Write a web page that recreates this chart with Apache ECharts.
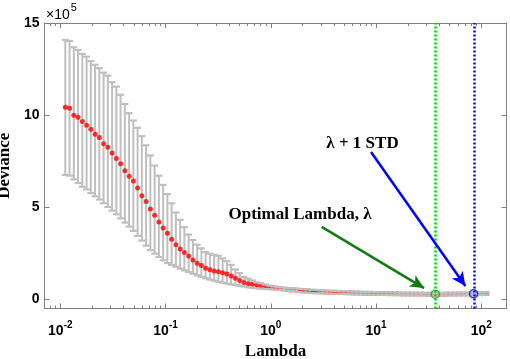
<!DOCTYPE html>
<html>
<head>
<meta charset="utf-8">
<script src="https://cdn.jsdelivr.net/npm/echarts@6/dist/echarts.min.js"></script>
<style>
html, body { margin: 0; padding: 0; background: #fff; }
#main { width: 510px; height: 359px; }
</style>
</head>
<body>
<div id="main"></div>
<script>
// lambda grid (x), cross-validated deviance (x1e5) with its error bar ends
var lambdaVals = [
    0.01116, 0.01225, 0.01344, 0.01475, 0.01619, 0.01777, 0.0195, 0.0214, 0.02349, 0.02578,
    0.0283, 0.03105, 0.03408, 0.0374, 0.04105, 0.04505, 0.04945, 0.05427, 0.05956, 0.06536,
    0.07174, 0.07873, 0.08641, 0.09483, 0.1041, 0.1142, 0.1254, 0.1376, 0.151, 0.1657,
    0.1819, 0.1996, 0.219, 0.2404, 0.2639, 0.2896, 0.3178, 0.3488, 0.3828, 0.4201,
    0.4611, 0.5061, 0.5555, 0.6096, 0.669, 0.7343, 0.8058, 0.8844, 0.9706, 1.0655,
    1.1688, 1.2835, 1.4083, 1.5455, 1.6959, 1.8617, 2.0429, 2.2415, 2.4605, 2.701,
    2.9641, 3.2527, 3.57, 3.918, 4.2997, 4.7194, 5.18, 5.6855, 6.2393, 6.8472,
    7.5156, 8.2474, 9.0518, 9.9341, 10.905, 11.963, 13.137, 14.414, 15.818, 17.358,
    19.055, 20.909, 22.942, 25.183, 27.645, 30.338, 33.291, 36.539, 40.101, 44.008,
    48.303, 53.017, 58.191, 63.859, 70.081, 76.922, 84.412, 92.645, 101.67, 111.61
];
var devMean = [
    10.42, 10.36, 9.98, 9.87, 9.64, 9.44, 9.22, 8.95, 8.77, 8.44,
    8.24, 7.93, 7.63, 7.35, 6.97, 6.67, 6.41, 6.03, 5.61, 5.29,
    4.89, 4.55, 4.18, 3.86, 3.57, 3.24, 2.95, 2.72, 2.52, 2.34,
    2.12, 1.94, 1.82, 1.67, 1.58, 1.52, 1.48, 1.43, 1.36, 1.25,
    1.13, 1.0, 0.9, 0.83, 0.8, 0.76, 0.72, 0.67, 0.64, 0.61,
    0.58, 0.54, 0.52, 0.49, 0.48, 0.46, 0.44, 0.43, 0.41, 0.40,
    0.39, 0.38, 0.37, 0.36, 0.35, 0.345, 0.34, 0.33, 0.325, 0.32,
    0.315, 0.31, 0.305, 0.30, 0.295, 0.29, 0.285, 0.28, 0.277, 0.274,
    0.271, 0.268, 0.266, 0.264, 0.262, 0.261, 0.26, 0.259, 0.26, 0.261,
    0.262, 0.264, 0.266, 0.268, 0.27, 0.273, 0.276, 0.28, 0.285, 0.29
];
var devUpper = [
    14.08, 14.02, 13.68, 13.53, 13.32, 13.17, 12.93, 12.73, 12.55, 12.3,
    12.14, 11.78, 11.54, 11.1, 10.6, 10.1, 9.7, 9.3, 8.85, 8.35,
    7.8, 7.25, 6.7, 6.2, 5.7, 5.2, 4.7, 4.3, 3.9, 3.5,
    3.2, 2.95, 2.75, 2.55, 2.45, 2.4, 2.35, 2.2, 2.05, 1.85,
    1.6, 1.4, 1.2, 1.1, 1.0, 0.9, 0.85, 0.78, 0.72, 0.68,
    0.65, 0.62, 0.6, 0.58, 0.57, 0.55, 0.53, 0.52, 0.5, 0.49,
    0.47, 0.46, 0.45, 0.44, 0.43, 0.42, 0.415, 0.405, 0.4, 0.39,
    0.385, 0.38, 0.375, 0.37, 0.365, 0.36, 0.355, 0.35, 0.345, 0.342,
    0.339, 0.336, 0.334, 0.332, 0.33, 0.329, 0.328, 0.327, 0.328, 0.329,
    0.33, 0.332, 0.334, 0.336, 0.338, 0.341, 0.344, 0.348, 0.353, 0.358
];
var devLower = [
    6.74, 6.7, 6.5, 6.3, 6.1, 5.95, 5.75, 5.58, 5.4, 5.2,
    5.0, 4.8, 4.6, 4.38, 4.15, 3.93, 3.7, 3.43, 3.17, 2.9,
    2.65, 2.46, 2.28, 2.1, 1.95, 1.85, 1.75, 1.65, 1.55, 1.46,
    1.37, 1.28, 1.2, 1.12, 1.05, 0.99, 0.93, 0.88, 0.83, 0.79,
    0.75, 0.71, 0.67, 0.63, 0.6, 0.58, 0.56, 0.54, 0.53, 0.51,
    0.49, 0.48, 0.46, 0.44, 0.42, 0.37, 0.35, 0.34, 0.32, 0.31,
    0.31, 0.3, 0.29, 0.28, 0.27, 0.27, 0.265, 0.255, 0.25, 0.25,
    0.245, 0.24, 0.235, 0.23, 0.225, 0.22, 0.215, 0.21, 0.209, 0.206,
    0.203, 0.2, 0.198, 0.196, 0.194, 0.193, 0.192, 0.191, 0.192, 0.193,
    0.194, 0.196, 0.198, 0.2, 0.202, 0.205, 0.208, 0.212, 0.217, 0.222
];

// selected lambdas
var lambdaOpt = 36.539, meanOpt = 0.259;
var lambda1se = 84.412, mean1se = 0.276;

// ticks and limits (lambda units)
var majorTicks = [0.01, 0.1, 1, 10, 100];
var minorSteps = [2, 3, 4, 5, 6, 7, 8, 9];
var yTicks = [0, 5, 10, 15];
var xMin = 0.00708, xMax = 173.4;
var yMin = -0.52, yMax = 15;

var sans = 'Liberation Sans, Arial, sans-serif';
var serif = 'Liberation Serif, Times New Roman, serif';
var axisGray = '#7f7f7f';
var barGray = '#bfbfbf';

// the x axis is drawn in log10(lambda)
var lg = function (v) { return Math.log(v) / Math.LN10; };

var minorTicks = [];
[0.001, 0.01, 0.1, 1, 10, 100].forEach(function (d) {
    minorSteps.forEach(function (m) {
        var v = m * d;
        if (v > xMin && v < xMax) minorTicks.push(lg(v));
    });
});
var majorLg = majorTicks.map(function (v) { return Math.round(lg(v)); });

var barData = lambdaVals.map(function (l, i) { return [lg(l), devLower[i], devUpper[i]]; });
var dotData = lambdaVals.map(function (l, i) { return [lg(l), devMean[i]]; });

var makeX = function (pos, ticks, len, showLine, withLabels) {
    var ax = {
        type: 'value',
        position: pos,
        min: lg(xMin),
        max: lg(xMax),
        axisLine: { show: showLine, onZero: false, lineStyle: { color: axisGray, width: 1 } },
        axisTick: { show: true, inside: true, length: len, customValues: ticks, lineStyle: { color: axisGray, width: 1 } },
        axisLabel: { show: false },
        splitLine: { show: false },
        minorTick: { show: false }
    };
    if (withLabels) {
        ax.name = 'Lambda';
        ax.nameLocation = 'middle';
        ax.nameGap = 33;
        ax.nameTextStyle = { fontFamily: serif, fontWeight: 'bold', fontSize: 17, color: '#000' };
        ax.axisLabel = {
            show: true,
            customValues: majorLg,
            margin: 12,
            formatter: function (v) {
                return '{b|10}{s|' + Math.round(v) + '}';
            },
            rich: {
                b: { fontFamily: sans, fontWeight: 'bold', fontSize: 14, color: '#000', verticalAlign: 'bottom' },
                s: { fontFamily: sans, fontWeight: 'bold', fontSize: 10, color: '#000', verticalAlign: 'bottom', padding: [0, 0, 8, 0] }
            }
        };
    }
    return ax;
};

var makeY = function (pos, withLabels) {
    var ax = {
        type: 'value',
        position: pos,
        min: yMin,
        max: yMax,
        axisLine: { show: true, onZero: false, lineStyle: { color: axisGray, width: 1 } },
        axisTick: { show: true, inside: true, length: 5, customValues: yTicks, lineStyle: { color: axisGray, width: 1 } },
        axisLabel: { show: false },
        splitLine: { show: false }
    };
    if (withLabels) {
        ax.name = 'Deviance';
        ax.nameLocation = 'middle';
        ax.nameRotate = 90;
        ax.nameGap = 27;
        ax.nameTextStyle = { fontFamily: serif, fontWeight: 'bold', fontSize: 17, color: '#000' };
        ax.axisLabel = {
            show: true,
            customValues: yTicks,
            margin: 5,
            fontFamily: sans,
            fontWeight: 'bold',
            fontSize: 14,
            color: '#000',
            formatter: function (v) { return String(v); }
        };
    }
    return ax;
};

var renderBar = function (params, api) {
    var p1 = api.coord([api.value(0), api.value(2)]);
    var p2 = api.coord([api.value(0), api.value(1)]);
    return {
        type: 'line',
        shape: { x1: p1[0], y1: p1[1], x2: p2[0], y2: p2[1] },
        style: { stroke: barGray, lineWidth: 2 }
    };
};

var renderCaps = function (params, api) {
    var p1 = api.coord([api.value(0), api.value(2)]);
    var p2 = api.coord([api.value(0), api.value(1)]);
    var w = 3.5;
    return {
        type: 'group',
        children: [
            { type: 'line', shape: { x1: p1[0] - w, y1: p1[1], x2: p1[0] + w, y2: p1[1] }, style: { stroke: barGray, lineWidth: 2.2 } },
            { type: 'line', shape: { x1: p2[0] - w, y1: p2[1], x2: p2[0] + w, y2: p2[1] }, style: { stroke: barGray, lineWidth: 2.2 } }
        ]
    };
};

var chart = echarts.init(document.getElementById('main'));

var option = {
    animation: false,
    backgroundColor: '#fff',
    grid: { left: 44.5, right: 3.5, top: 23, bottom: 50.5, containLabel: false, outerBoundsMode: 'none' },
    xAxis: [
        makeX('bottom', majorLg, 5, true, true),
        makeX('bottom', minorTicks, 3, false, false),
        makeX('top', majorLg, 5, true, false),
        makeX('top', minorTicks, 3, false, false)
    ],
    yAxis: [
        makeY('left', true),
        makeY('right', false)
    ],
    graphic: [{
        type: 'text',
        left: 46,
        top: 2,
        silent: true,
        style: {
            text: '{a|\u00d710}{s|5}',
            rich: {
                a: { fontFamily: sans, fontSize: 14, fill: '#000', verticalAlign: 'bottom' },
                s: { fontFamily: sans, fontSize: 11, fill: '#000', verticalAlign: 'bottom', padding: [0, 0, 9, 1] }
            }
        }
    }],
    series: [
        {
            type: 'custom',
            name: 'bars',
            renderItem: renderBar,
            data: barData,
            encode: { x: 0, y: [1, 2] },
            silent: true,
            z: 2
        },
        {
            type: 'scatter',
            name: 'mean',
            data: dotData,
            symbol: 'circle',
            symbolSize: 5,
            itemStyle: { color: '#ff0000' },
            silent: true,
            z: 3
        },
        {
            type: 'custom',
            name: 'caps',
            renderItem: renderCaps,
            data: barData,
            encode: { x: 0, y: [1, 2] },
            silent: true,
            z: 4
        },
        {
            type: 'scatter',
            name: 'selected',
            data: [
                { value: [lg(lambdaOpt), meanOpt], itemStyle: { borderColor: '#1a9e1a' } },
                { value: [lg(lambda1se), mean1se], itemStyle: { borderColor: '#0000ff' } }
            ],
            symbol: 'circle',
            symbolSize: 8,
            itemStyle: { color: 'rgba(0,0,0,0)', borderWidth: 1.5 },
            silent: true,
            z: 6,
            markLine: {
                silent: true,
                symbol: ['none', 'none'],
                label: { show: false },
                data: [
                    { xAxis: lg(lambdaOpt), lineStyle: { color: '#00cc00', type: [2, 2], width: 2.5 } },
                    { xAxis: lg(lambda1se), lineStyle: { color: '#0000ff', type: [2, 2], width: 2.5 } }
                ]
            }
        },
        {
            type: 'line',
            name: 'notes',
            data: [],
            silent: true,
            z: 7,
            markLine: {
                silent: true,
                symbol: ['none', 'arrow'],
                symbolSize: [10, 14],
                label: { show: false },
                data: [
                    [
                        { coord: [lg(3.045), 3.92], lineStyle: { color: '#137a13', width: 2.5, type: 'solid' } },
                        { coord: [lg(28.55), 0.59] }
                    ],
                    [
                        { coord: [lg(8.95), 7.99], lineStyle: { color: '#0000ff', width: 2.5, type: 'solid' } },
                        { coord: [lg(70.5), 0.70] }
                    ]
                ]
            },
            markPoint: {
                silent: true,
                symbol: 'circle',
                symbolSize: 0,
                itemStyle: { color: 'rgba(0,0,0,0)' },
                label: {
                    show: true,
                    position: 'inside',
                    fontFamily: serif,
                    fontWeight: 'bold',
                    fontSize: 17,
                    color: '#000'
                },
                data: [
                    { coord: [lg(7.43), 8.45], label: { formatter: '\u03bb + 1 STD' } },
                    { coord: [lg(1.894), 4.59], label: { formatter: 'Optimal Lambda, \u03bb' } }
                ]
            }
        }
    ]
};

chart.setOption(option);
</script>
</body>
</html>
